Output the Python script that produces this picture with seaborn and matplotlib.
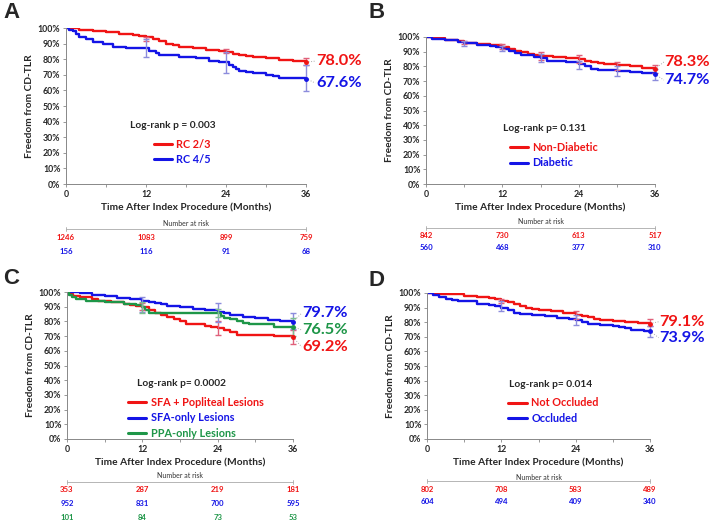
import matplotlib
matplotlib.use("Agg")
import matplotlib.pyplot as plt
import matplotlib.transforms as mtransforms
import seaborn as sns
import pandas as pd
import numpy as np

sns.set_theme(style="white")
plt.rcParams['font.family'] = ['Lato', 'DejaVu Sans']

RED = '#f01414'
BLUE = '#1414e6'
GREEN = '#1e9648'
RED_CI = '#e0607a'
BLUE_CI = '#8c8cdc'
GREEN_CI = '#7cbf90'

# ---------------- DATA ----------------
# Panel A
A_names = ['RC 2/3', 'RC 4/5']
A_t_red = [0, 2, 4, 6, 8, 10, 11, 12, 13, 14, 15, 16, 17, 19, 21, 23, 24, 25, 26, 27, 28, 30, 32, 34, 36]
A_s_red = [100, 99, 98.2, 97.3, 96.3, 95.5, 94.8, 94, 93, 91.5, 90, 89, 88, 87, 86, 85, 84.5, 83.5, 82.5, 81.8, 81.2, 80.5, 79.6, 78.6, 78]
A_t_blue = [0, 0.5, 1, 1.5, 2, 3, 4, 5.5, 7, 9, 12.5, 13.5, 14, 17, 19.5, 21.5, 23, 24.5, 25, 25.5, 26, 27, 28, 30, 31, 32, 36]
A_s_blue = [100, 99, 98, 96, 94.5, 93, 91, 89.5, 88, 87, 85.5, 84, 82.5, 81.5, 81, 79, 78, 76.5, 75, 73.5, 72.5, 71.7, 71, 70, 69, 68.2, 67.6]
A_ci_t = [12, 24, 36]
A_ci_red_lo = [91.9, 83.7, 76.2]
A_ci_red_hi = [94.4, 86.3, 80.5]
A_ci_blue_lo = [81.2, 71.3, 59.5]
A_ci_blue_hi = [92.7, 84.4, 76.5]
A_final = ['78.0%', '67.6%']
A_pval = 'Log-rank p = 0.003'
A_risk_red = [1246, 1083, 899, 759]
A_risk_blue = [156, 116, 91, 68]

# Panel B
B_names = ['Non-Diabetic', 'Diabetic']
B_t_red = [0, 1, 3, 5, 6, 8, 10, 12, 13, 14, 15, 16, 17, 18, 20, 22, 24, 25, 26, 27, 28, 30, 32, 34, 36]
B_s_red = [100, 99, 98, 97, 96.2, 95.2, 94.3, 93.2, 92, 90.5, 89.5, 88.5, 87.8, 87, 86.2, 85.5, 84.8, 83.8, 83, 82.3, 81.5, 80.7, 80, 79, 78.3]
B_t_blue = [0, 1, 3, 5, 6, 8, 10, 11, 12, 13, 14, 15, 16, 17, 18, 19, 20, 22, 24, 25, 26, 27, 28, 30, 32, 34, 36]
B_s_blue = [100, 98.8, 97.7, 96.5, 95.8, 94.8, 93.8, 93, 92, 90.5, 89, 88, 87.5, 86.5, 85.5, 84, 83.5, 82.8, 81.8, 80.5, 78, 77.8, 77.5, 77, 76.3, 75.5, 74.7]
B_ci_t = [6, 12, 18, 24, 30, 36]
B_ci_red_lo = [95, 91.5, 84.5, 82, 77.5, 75.5]
B_ci_red_hi = [97.5, 95, 89.5, 87.5, 83, 81]
B_ci_blue_lo = [94, 90.5, 83, 78, 73.5, 71]
B_ci_blue_hi = [97, 94, 88.5, 84, 80, 78]
B_final = ['78.3%', '74.7%']
B_pval = 'Log-rank p= 0.131'
B_risk_red = [842, 730, 613, 517]
B_risk_blue = [560, 468, 377, 310]

# Panel C
C_names = ['SFA + Popliteal Lesions', 'SFA-only Lesions', 'PPA-only Lesions']
C_t_red = [0, 0.5, 1, 2, 4, 5, 7, 9, 10, 11, 12, 13, 14, 15, 16, 17, 18, 19, 20, 22, 23, 24, 25, 26, 27, 30, 33, 36]
C_s_red = [100, 98.5, 97.5, 96.5, 95, 94, 93, 92, 91, 90.5, 89.5, 88, 86, 84.5, 83, 81.5, 80, 78.5, 78, 77, 76, 75.5, 74, 72.5, 71, 70.5, 70, 69.2]
C_t_blue = [0, 2, 4, 6, 8, 10, 12, 13, 14, 15, 16, 18, 20, 22, 24, 25, 26, 28, 30, 32, 34, 36]
C_s_blue = [100, 99, 98, 97, 96, 95, 94.2, 93.5, 92.5, 91.5, 90.5, 89.5, 88.5, 87.5, 86.5, 85.5, 84.5, 83, 82, 81, 80.2, 79.7]
C_t_green = [0, 0.3, 0.8, 1.5, 3, 6, 8, 9, 11, 12, 12.5, 13, 16, 24, 24.5, 25, 26, 27, 28, 29, 32, 33, 36]
C_s_green = [100, 98, 96.5, 95, 94, 93.5, 93, 91.5, 91, 90, 88, 86, 85.5, 85.5, 84, 82.5, 81.5, 80.5, 79, 78, 78, 76.5, 76.5]
C_ci_t = [12, 24, 36]
C_ci_red_lo = [88, 71, 64.3]
C_ci_red_hi = [92.5, 80.5, 74.4]
C_ci_blue_lo = [86.4, 79.5, 74.5]
C_ci_blue_hi = [96.6, 92.5, 85.5]
C_ci_green_lo = [86, 83, 70]
C_ci_green_hi = [93, 88.5, 82.5]
C_final = ['69.2%', '79.7%', '76.5%']
C_pval = 'Log-rank p= 0.0002'
C_risk_red = [353, 287, 219, 181]
C_risk_blue = [952, 831, 700, 595]
C_risk_green = [101, 84, 73, 53]

# Panel D
D_names = ['Not Occluded', 'Occluded']
D_t_red = [0, 2, 4, 6, 8, 10, 11, 12, 13, 14, 15, 16, 17, 18, 20, 22, 24, 25, 26, 27, 28, 30, 32, 34, 36]
D_s_red = [100, 99.3, 99, 98.2, 97.3, 96.4, 95.6, 94.8, 93.6, 92.3, 91, 89.8, 88.8, 88.2, 87.5, 86.3, 85.2, 84.4, 83.4, 82.3, 81.4, 80.6, 80.3, 79.6, 79.1]
D_t_blue = [0, 1, 2, 3, 4, 5, 6, 8, 10, 11, 12, 13, 14, 15, 17, 19, 21, 23, 24, 25, 26, 28, 30, 31, 32, 33, 35, 36]
D_s_blue = [100, 98.5, 97, 96, 95.5, 94.8, 94.2, 92.5, 91.5, 91, 90, 88.5, 86.5, 85.5, 84.8, 84, 83, 82.3, 81.5, 80, 78.5, 77.8, 77.3, 77, 76, 75, 74.3, 73.9]
D_ci_t = [12, 24, 36]
D_ci_red_lo = [93.1, 82.1, 77.1]
D_ci_red_hi = [95.9, 87.4, 82.1]
D_ci_blue_lo = [87.4, 78.3, 69.8]
D_ci_blue_hi = [94.3, 85.1, 77.6]
D_final = ['79.1%', '73.9%']
D_pval = 'Log-rank p= 0.014'
D_risk_red = [802, 708, 583, 489]
D_risk_blue = [604, 494, 409, 340]

RISK_T = [0, 12, 24, 36]
X_MAJOR = [0, 12, 24, 36]
X_MINOR = [6, 18, 30]
Y_TICKS = list(range(0, 101, 10))

# ---------------- FIGURE ----------------
W, H = 713, 523
fig = plt.figure(figsize=(W / 100, H / 100), dpi=100)


def fy(py):
    return 1 - py / H


def make_panel(letter, letter_xy, box, series, cis, finals, final_y, pval, pval_xy,
               legend_anchor, risks, risk_y):
    left, right, top, bottom = box
    ax = fig.add_axes([left / W, fy(bottom), (right - left) / W, (bottom - top) / H])
    rows = []
    for name, color, t, s in series:
        for ti, si in zip(t, s):
            rows.append({'t': ti, 's': si, 'group': name})
    df = pd.DataFrame(rows)
    palette = {name: color for name, color, _, _ in series}
    sns.lineplot(data=df, x='t', y='s', hue='group', palette=palette, estimator=None,
                 drawstyle='steps-post', lw=1.7, ax=ax, legend=True, sort=False)
    for (t, lo, hi, ccol, mcol), (name, color, ts, ss) in zip(cis, series):
        lo = np.array(lo); hi = np.array(hi)
        mid = (lo + hi) / 2
        ax.errorbar(t, mid, yerr=[mid - lo, hi - mid], fmt='none', ecolor=ccol,
                    elinewidth=1.0, capsize=2.2, capthick=1.0, clip_on=False, zorder=3)
        ax.plot([ts[-1]], [ss[-1]], 'o', color=color, ms=2.5, clip_on=False, zorder=4)
    # final value labels
    for (name, color, ts, ss), txt, yy in zip(series, finals, final_y):
        ax.plot([ts[-1], 37.4], [ss[-1], yy], ls=':', color='#aaaaaa', lw=0.7, clip_on=False)
        ax.text(37.5, yy, txt, color=color, fontsize=11.8, fontweight='bold',
                va='center', ha='left', clip_on=False)
    ax.set_xlim(0, 36)
    ax.set_ylim(0, 100)
    ax.set_xticks(X_MAJOR)
    ax.set_xticks(X_MINOR, minor=True)
    ax.set_yticks(Y_TICKS)
    ax.set_yticklabels([f'{v}%' for v in Y_TICKS])
    ax.tick_params(axis='both', which='both', length=2.5, width=0.6, color='#888888',
                   labelsize=6.3, pad=1.5, direction='out')
    ax.tick_params(axis='x', which='both', bottom=True)
    ax.tick_params(axis='y', left=True)
    for lab in ax.get_xticklabels() + ax.get_yticklabels():
        lab.set_fontweight('bold')
    for sp in ['top', 'right']:
        ax.spines[sp].set_visible(False)
    for sp in ['left', 'bottom']:
        ax.spines[sp].set_color('#888888')
        ax.spines[sp].set_linewidth(0.7)
    ax.set_xlabel('Time After Index Procedure (Months)', fontsize=7.3, fontweight='bold', labelpad=3.5)
    ax.set_ylabel('Freedom from CD-TLR', fontsize=7.3, fontweight='bold', labelpad=3)
    ax.text(pval_xy[0], pval_xy[1], pval, fontsize=7.3, fontweight='bold', ha='center',
            va='center')
    sns.move_legend(ax, loc='upper left', bbox_to_anchor=legend_anchor, frameon=False,
                    title=None, fontsize=7.8, handlelength=1.7, handletextpad=0.4,
                    labelspacing=0.4, borderaxespad=0, borderpad=0)
    leg = ax.get_legend()
    for txt, (name, color, _, _) in zip(leg.get_texts(), series):
        txt.set_color(color)
        txt.set_fontweight('bold')
    for h in leg.legend_handles:
        h.set_linewidth(2.2)
    # risk table
    blend = mtransforms.blended_transform_factory(ax.transData, fig.transFigure)
    hy, ly = risk_y[0], risk_y[1]
    ax.text(18, fy(hy), 'Number at risk', transform=blend, fontsize=5, color='#333333',
            ha='center', va='center', clip_on=False)
    ax.plot([0, 36], [fy(ly), fy(ly)], transform=blend, color='#aaaaaa', lw=0.6, clip_on=False)
    ax.plot([0, 0], [fy(ly) - 0.003, fy(ly) + 0.003], transform=blend, color='#aaaaaa', lw=0.6, clip_on=False)
    ax.plot([36, 36], [fy(ly) - 0.003, fy(ly) + 0.003], transform=blend, color='#aaaaaa', lw=0.6, clip_on=False)
    for (vals, color), ry in zip(risks, risk_y[2:]):
        for tt, v in zip(RISK_T, vals):
            ax.text(tt, fy(ry), str(v), transform=blend, fontsize=5.6, fontweight='bold',
                    color=color, ha='center', va='center', clip_on=False)
    fig.text(letter_xy[0] / W, fy(letter_xy[1]), letter, fontsize=16, fontweight='bold',
             family='Liberation Sans', ha='left', va='center')
    return ax


make_panel('A', (3, 12), (66, 306, 28, 184),
           [(A_names[0], RED, A_t_red, A_s_red), (A_names[1], BLUE, A_t_blue, A_s_blue)],
           [(A_ci_t, A_ci_red_lo, A_ci_red_hi, RED_CI, RED), (A_ci_t, A_ci_blue_lo, A_ci_blue_hi, BLUE_CI, BLUE)],
           A_final, [78.8, 64.7], A_pval, (16, 37.8), (0.365, 0.29),
           [(A_risk_red, RED), (A_risk_blue, BLUE)], [223, 229, 238, 252])

make_panel('B', (368, 12), (426, 655, 37, 184),
           [(B_names[0], RED, B_t_red, B_s_red), (B_names[1], BLUE, B_t_blue, B_s_blue)],
           [(B_ci_t, B_ci_red_lo, B_ci_red_hi, RED_CI, RED), (B_ci_t, B_ci_blue_lo, B_ci_blue_hi, BLUE_CI, BLUE)],
           B_final, [83, 70.7], B_pval, (18.7, 38), (0.365, 0.285),
           [(B_risk_red, RED), (B_risk_blue, BLUE)], [222, 228, 235, 248])

make_panel('C', (3, 279), (67, 293, 292, 439),
           [(C_names[0], RED, C_t_red, C_s_red), (C_names[1], BLUE, C_t_blue, C_s_blue),
            (C_names[2], GREEN, C_t_green, C_s_green)],
           [(C_ci_t, C_ci_red_lo, C_ci_red_hi, RED_CI, RED), (C_ci_t, C_ci_blue_lo, C_ci_blue_hi, BLUE_CI, BLUE),
            (C_ci_t, C_ci_green_lo, C_ci_green_hi, GREEN_CI, GREEN)],
           C_final, [62.6, 85.7, 74.1], C_pval, (18.3, 38), (0.27, 0.285),
           [(C_risk_red, RED), (C_risk_blue, BLUE), (C_risk_green, GREEN)], [476, 482, 489, 503, 517])

make_panel('D', (368, 280), (427, 650, 293, 439),
           [(D_names[0], RED, D_t_red, D_s_red), (D_names[1], BLUE, D_t_blue, D_s_blue)],
           [(D_ci_t, D_ci_red_lo, D_ci_red_hi, RED_CI, RED), (D_ci_t, D_ci_blue_lo, D_ci_blue_hi, BLUE_CI, BLUE)],
           D_final, [80.3, 69.4], D_pval, (19.9, 37.4), (0.365, 0.285),
           [(D_risk_red, RED), (D_risk_blue, BLUE)], [477, 481, 490, 502])

fig.savefig('out.png', dpi=100)
